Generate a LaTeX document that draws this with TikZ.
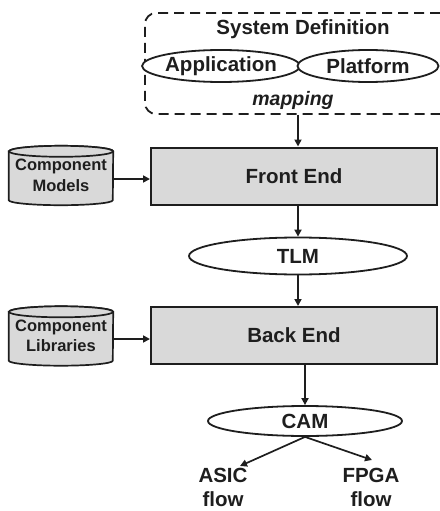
\documentclass[tikz,border=0pt]{standalone}
\usepackage{fontspec}
\setmainfont{Liberation Sans}
\usetikzlibrary{arrows.meta,shapes.geometric,backgrounds}
\definecolor{ink}{HTML}{1E1E1E}
\definecolor{boxgray}{HTML}{D9D9D9}
\begin{document}
\begin{tikzpicture}[x=1pt,y=-1pt,
  txt/.style={font=\fontsize{20.5}{24}\selectfont\bfseries, text=ink},
  smalltxt/.style={font=\fontsize{16.5}{20.5}\selectfont\bfseries, text=ink, align=center},
  sysbox/.style={draw=ink, line width=1.8pt, dash pattern=on 10pt off 6pt, rounded corners=11pt, minimum width=306pt, minimum height=101pt, inner sep=0pt},
  stage/.style={draw=ink, fill=boxgray, line width=2pt, minimum width=286pt, minimum height=57pt, inner sep=0pt, txt},
  oval/.style={ellipse, draw=ink, fill=white, line width=1.8pt, inner sep=0pt, txt},
  cylnode/.style={minimum width=104pt, minimum height=59pt, inner sep=0pt, smalltxt},
  cylbody/.style={draw=ink, fill=boxgray, line width=1.7pt},
  arr/.style={draw=ink, line width=1.7pt, -{Triangle[length=7pt,width=7pt]}},
  flow/.style={txt, align=center, inner sep=0pt}
]
\useasboundingbox (0,0) rectangle (439,511);

% System definition
\node[sysbox] (sys) at (298,63.5) {};
\node[txt] (sysdef) at (303,29) {System Definition};
\node[oval, minimum width=140pt, minimum height=32pt] (app) at (221,66) {Application};
\node[oval, minimum width=141pt, minimum height=32pt] (plat) at (368,66) {Platform};
\node[txt, font=\fontsize{19.5}{24}\selectfont\bfseries\itshape] (map) at (293,100) {mapping};

% Front end
\node[stage] (fe) at (294,176) {Front End};
\node[cylnode] (cm) at (61,175.5) {Component\\Models};

% TLM
\node[oval, minimum width=218pt, minimum height=37pt] (tlm) at (298,256) {TLM};

% Back end
\node[stage] (be) at (294,335.5) {Back End};
\node[cylnode] (cl) at (61,336) {Component\\Libraries};

% CAM
\node[oval, minimum width=194pt, minimum height=30pt] (cam) at (305,421) {CAM};

% flows
\node[flow, anchor=north] (asic) at (223,468) {ASIC\\flow};
\node[flow, anchor=north] (fpga) at (371,468) {FPGA\\flow};
\coordinate (asicend) at (240,466);
\coordinate (fpgaend) at (372,460);

% cylinders
\begin{scope}[on background layer]
\foreach \c in {cm,cl}{
  \path[cylbody] ([yshift=-5.5pt]\c.north west) -- ([yshift=5pt]\c.south west)
     arc[start angle=180, end angle=360, x radius=52pt, y radius=5pt]
     -- ([yshift=-5.5pt]\c.north east)
     arc[start angle=0, end angle=180, x radius=52pt, y radius=5.5pt] -- cycle;
  \path[cylbody] ([yshift=-5.5pt]\c.north) ellipse[x radius=52pt, y radius=5.5pt];
}
\end{scope}

% connectors
\draw[arr] (sys.south) -- (sys.south |- fe.north);
\draw[arr] (cm.east |- 0,179) -- (fe.west |- 0,179);
\draw[arr] (tlm.north |- fe.south) -- (tlm.north);
\draw[arr] (tlm.south) -- (tlm.south |- be.north);
\draw[arr] (cl.east |- 0,339) -- (be.west |- 0,339);
\draw[arr] (cam.north |- be.south) -- (cam.north);
\draw[arr] (cam.south) -- (asicend);
\draw[arr] (cam.south) -- (fpgaend);
\end{tikzpicture}
\end{document}
